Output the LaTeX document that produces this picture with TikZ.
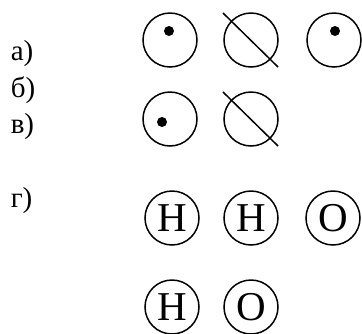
\documentclass[tikz,border=0pt]{standalone}
\usepackage{fontspec}
\setmainfont{Liberation Serif}
\usepackage{tikz}
\tikzset{
  atom/.style={draw, circle, line width=1.5pt, minimum size=54pt, inner sep=0pt, font=\fontsize{41}{41}\selectfont},
  dot/.style={fill, circle, minimum size=10pt, inner sep=0pt},
  lbl/.style={anchor=base west, inner sep=0pt, font=\fontsize{29}{29}\selectfont}
}

\begin{document}
\begin{tikzpicture}[x=1pt,y=-1pt,line width=1.5pt]
\useasboundingbox (0,0) rectangle (362,333);

\node[lbl] (la) at (10,60) {а)};
\node[lbl] (lb) at (10,97) {б)};
\node[lbl] (lv) at (10,133) {в)};
\node[lbl] (lg) at (10,207) {г)};

\node[atom] (a1) at (170,40) {};
\node[atom] (a2) at (251,40) {};
\node[atom] (a3) at (334,40) {};
\node[atom] (b1) at (170,119) {};
\node[atom] (b2) at (251,119) {};

\node[dot] (d1) at (169,31) {};
\node[dot] (d3) at (335,31) {};
\node[dot] (d4) at (162,122) {};

\coordinate (s1) at (223,13);
\coordinate (e1) at (278,67);
\coordinate (s2) at (223,92);
\coordinate (e2) at (278,146);
\draw (s1) -- (e1);
\draw (s2) -- (e2);

\node[atom] (h1) at (172,218) {H};
\node[atom] (h2) at (251,218) {H};
\node[atom] (o1) at (333,218) {O};
\node[atom] (h3) at (172,307) {H};
\node[atom] (o2) at (251,307) {O};
\end{tikzpicture}
\end{document}
